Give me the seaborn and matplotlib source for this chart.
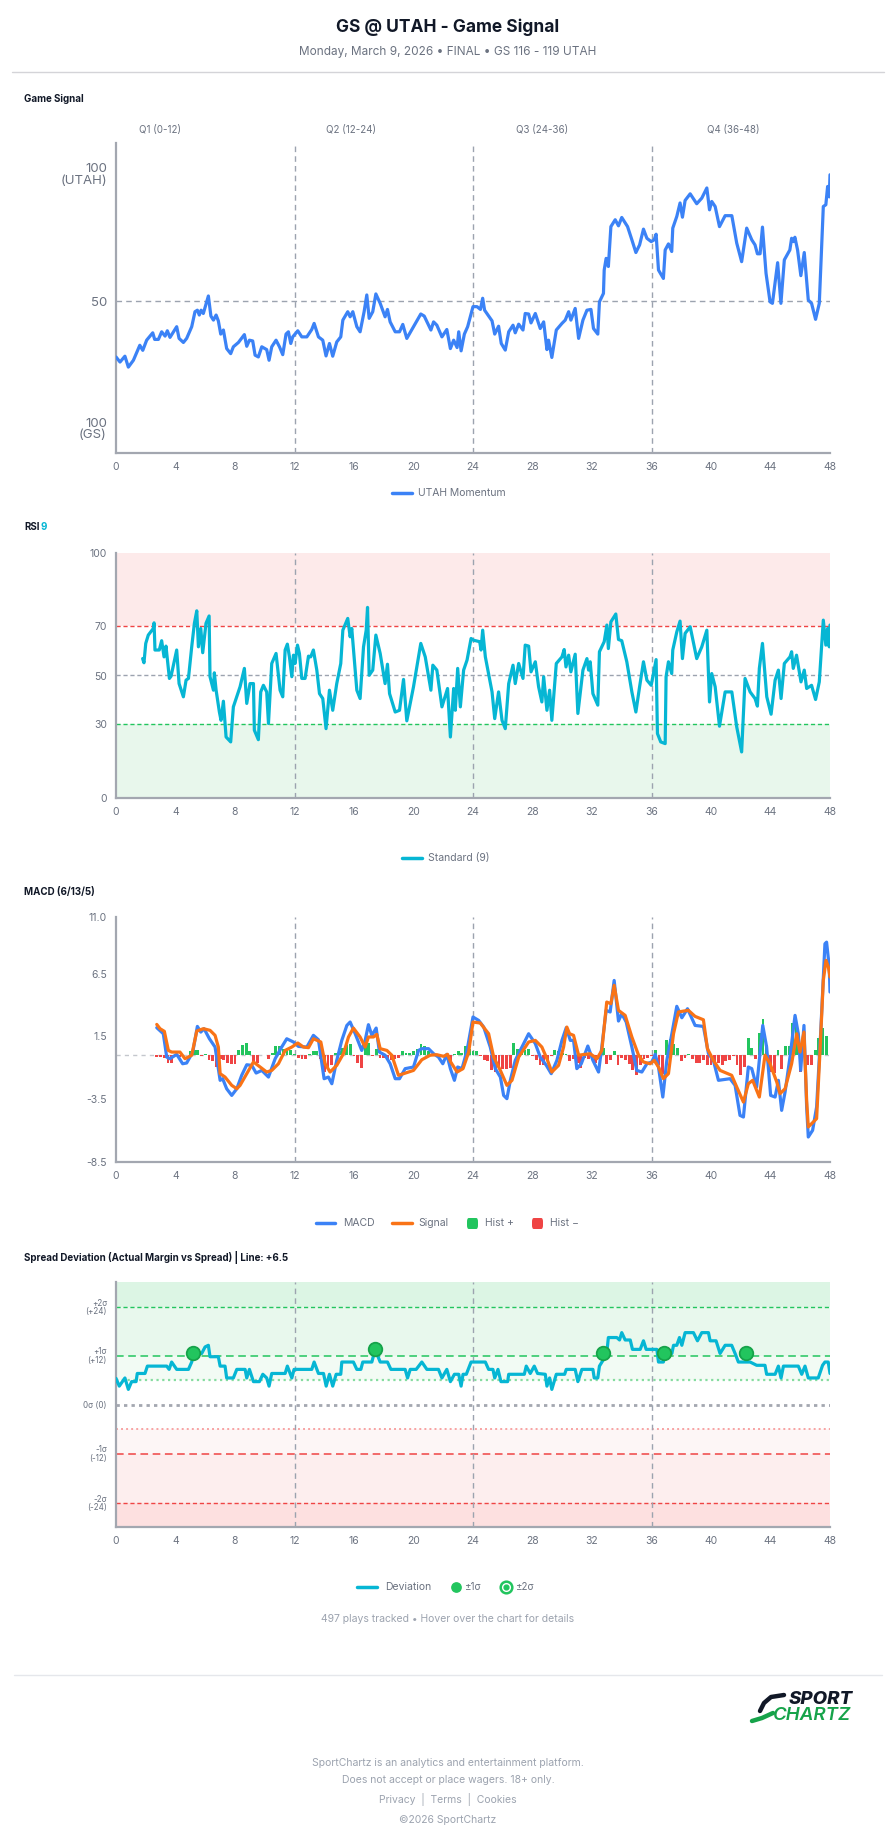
import matplotlib
matplotlib.use('Agg')
import matplotlib.pyplot as plt
from matplotlib.lines import Line2D
from matplotlib.patches import FancyBboxPatch
import numpy as np
import seaborn as sns

W, H = 896, 1845

# ---- Game Signal (UTAH momentum, 0 = GS 100, 100 = UTAH 100)
mom_t = [0, 0.27, 0.6, 0.83, 1.17, 1.6, 1.8, 2.06, 2.47, 2.6,
         2.85, 3.07, 3.3, 3.45, 3.63, 4.08, 4.24, 4.53, 4.75, 5.09,
         5.31, 5.47, 5.6, 5.72, 5.87, 6.21, 6.38, 6.55, 6.73, 6.88,
         7.04, 7.22, 7.44, 7.71, 7.89, 8.23, 8.63, 8.79, 8.97, 9.19,
         9.35, 9.57, 9.8, 10.13, 10.29, 10.47, 10.76, 10.99, 11.21, 11.43,
         11.59, 11.75, 11.88, 12.22, 12.49, 12.83, 13.16, 13.32, 13.61, 13.9,
         14.12, 14.35, 14.57, 14.84, 15.11, 15.25, 15.58, 15.74, 15.92, 16.19,
         16.41, 16.68, 16.86, 17.02, 17.26, 17.47, 17.76, 18.09, 18.25, 18.43,
         18.77, 19.06, 19.28, 19.55, 20.0, 20.49, 20.72, 21.17, 21.35, 21.57,
         21.91, 22.24, 22.48, 22.7, 22.93, 23.04, 23.2, 23.42, 23.64, 24.0,
         24.27, 24.5, 24.65, 24.78, 25.28, 25.46, 25.72, 25.9, 26.17, 26.4,
         26.69, 26.84, 27.07, 27.36, 27.51, 27.74, 27.9, 28.19, 28.52, 28.75,
         28.97, 29.08, 29.3, 29.6, 29.98, 30.2, 30.43, 30.58, 30.87, 31.1,
         31.39, 31.66, 31.93, 32.1, 32.39, 32.5, 32.77, 32.82, 32.95, 33.1,
         33.27, 33.56, 33.78, 34.0, 34.39, 34.68, 34.95, 35.2, 35.46, 35.69,
         35.98, 36.18, 36.31, 36.47, 36.8, 36.92, 37.14, 37.36, 37.43, 37.7,
         37.92, 38.08, 38.26, 38.6, 39.04, 39.38, 39.72, 39.9, 40.05, 40.28,
         40.57, 40.95, 41.4, 41.73, 42.06, 42.4, 42.74, 42.96, 43.12, 43.3,
         43.46, 43.7, 43.97, 44.13, 44.48, 44.7, 44.93, 45.3, 45.42, 45.53,
         45.64, 45.82, 46.04, 46.27, 46.54, 46.76, 47.03, 47.28, 47.55, 47.72,
         47.84, 47.95, 48.0]
mom_v = [28, 26, 28.3, 24, 26.7, 32.6, 30.6, 34.6, 37.5, 34.9,
         34.9, 37.9, 36.2, 38.3, 35.7, 39.9, 35.3, 33.7, 35.3, 39.9,
         45.8, 46.4, 44.5, 46.4, 45.1, 52, 44.1, 42.5, 44.5, 42.2,
         37, 38.6, 31.3, 29.3, 32, 33.7, 36.8, 32.2, 34.6, 34.3,
         28.7, 28, 32, 30.9, 26.7, 32, 34.6, 32, 28.9, 37,
         37.9, 33.3, 35.9, 38.3, 35.9, 35.9, 38.8, 41.2, 35.9, 34.6,
         28.4, 33.3, 28.3, 33.9, 35.9, 42.5, 45.8, 43.8, 45.8, 39.9,
         37.9, 45.8, 52.4, 43.2, 45.8, 52.8, 49.1, 43.8, 46.7, 41.8,
         37.9, 37.9, 40.8, 35.3, 39.9, 44.9, 44.1, 38.6, 41.8, 40.5,
         35.9, 38.8, 31.3, 34.6, 31.7, 37.9, 30.4, 37, 39.9, 47.8,
         47.8, 46.7, 51.1, 46.4, 42.2, 37, 40.1, 33.3, 30.7, 37.9,
         40.5, 37.5, 40.9, 38.6, 45.1, 44.9, 41.4, 45.1, 39.2, 41.8,
         30.9, 34.6, 27.8, 38.6, 41.2, 42.5, 45.8, 42.5, 47.1, 35.3,
         42.5, 46.4, 46.7, 39.2, 37, 49.7, 53, 62.2, 66.8, 63.6,
         79.3, 82, 79.6, 82.9, 79.3, 74.1, 69.1, 72.1, 78.3, 74.7,
         73.4, 74.1, 76.3, 62.2, 58.9, 70.1, 72.5, 69.5, 78.7, 83.3,
         88.6, 83, 89.6, 92.2, 88.3, 90.5, 94.5, 85.9, 89.2, 87.2,
         79.3, 83.6, 83.6, 72.8, 65.5, 78.7, 74.1, 72.1, 68.6, 68.6,
         79.1, 60.9, 49.7, 49.1, 65.1, 49.1, 66.2, 70.1, 74.7, 73.4,
         75.1, 70.1, 60, 69.1, 50.4, 49.1, 42.8, 49.1, 87.2, 87.9,
         95.1, 91, 99.7]

# ---- RSI 9
rsi_t = [1.79, 1.88, 2.0, 2.17, 2.51, 2.56, 2.62, 2.91, 3.07, 3.23,
         3.36, 3.59, 3.7, 3.86, 4.08, 4.24, 4.53, 4.71, 4.87, 5.09,
         5.27, 5.43, 5.54, 5.7, 5.83, 6.05, 6.26, 6.32, 6.55, 6.61,
         6.73, 6.95, 7.06, 7.22, 7.4, 7.71, 7.89, 8.34, 8.63, 8.79,
         9.01, 9.24, 9.3, 9.57, 9.73, 9.91, 10.13, 10.25, 10.47, 10.76,
         11.03, 11.21, 11.37, 11.52, 11.66, 11.82, 11.93, 12.04, 12.2, 12.33,
         12.49, 12.71, 12.94, 13.09, 13.27, 13.5, 13.68, 13.9, 14.12, 14.35,
         14.57, 14.84, 15.11, 15.25, 15.58, 15.74, 15.85, 16.19, 16.41, 16.64,
         16.82, 16.91, 17.02, 17.26, 17.47, 17.76, 18.09, 18.25, 18.39, 18.77,
         19.06, 19.33, 19.55, 20.0, 20.49, 20.79, 21.17, 21.3, 21.57, 21.91,
         22.29, 22.48, 22.7, 22.81, 22.97, 23.15, 23.37, 23.6, 23.87, 24.04,
         24.45, 24.54, 24.65, 24.83, 25.28, 25.46, 25.72, 25.95, 26.17, 26.4,
         26.69, 26.84, 27.07, 27.36, 27.51, 27.74, 27.9, 28.19, 28.41, 28.63,
         28.75, 28.97, 29.15, 29.3, 29.6, 29.98, 30.13, 30.25, 30.43, 30.58,
         30.87, 31.05, 31.39, 31.66, 31.77, 31.88, 32.06, 32.39, 32.5, 32.82,
         33.0, 33.1, 33.27, 33.6, 33.78, 34.0, 34.34, 34.68, 34.95, 35.2,
         35.46, 35.69, 35.98, 36.13, 36.31, 36.4, 36.62, 36.92, 36.98, 37.14,
         37.36, 37.43, 37.7, 37.92, 38.08, 38.26, 38.6, 39.04, 39.38, 39.72,
         39.9, 40.05, 40.28, 40.57, 40.95, 41.4, 41.73, 42.06, 42.29, 42.63,
         42.96, 43.12, 43.25, 43.46, 43.75, 44.04, 44.31, 44.53, 44.71, 44.93,
         45.31, 45.42, 45.53, 45.75, 46.05, 46.27, 46.43, 46.76, 47.03, 47.28,
         47.55, 47.72, 47.84, 47.95, 48.0]
rsi_v = [56.9, 55.2, 63.1, 66.5, 69.2, 71.5, 60.4, 60.4, 64.2, 57.6,
         62, 48.8, 49.7, 54.2, 60.4, 46.7, 41.3, 48.1, 48.8, 61.7,
         71.3, 76.4, 61.7, 69.2, 59.3, 71.3, 74.3, 49.5, 44, 51.1,
         44, 35.1, 31.7, 39.5, 24.9, 22.9, 37.2, 45.4, 52.9, 38.6,
         46.7, 46.7, 27.7, 23.8, 43.3, 46, 43.3, 30.4, 54.9, 59,
         44, 41.3, 60.4, 62.8, 57.6, 49.5, 58.3, 54.9, 62.4, 59,
         48.8, 48.8, 57.9, 57.6, 60.4, 52.2, 42.6, 40.6, 28.3, 44,
         35.8, 46.7, 54.9, 68.5, 73.3, 65.8, 69.2, 44, 40.6, 61.7,
         68.5, 77.8, 50.1, 52.2, 66.5, 59, 46.7, 54.6, 42.6, 35.1,
         35.8, 48.4, 31.5, 45.4, 63.1, 57.6, 44, 54.2, 52.2, 37.2,
         44.7, 24.9, 44.7, 35.8, 52.9, 37.2, 52.2, 56.3, 65.1, 64.4,
         63.8, 60.4, 68.5, 57.6, 43.3, 32.4, 43.3, 31.7, 28.3, 46.7,
         54.2, 46.7, 54.9, 48.8, 62.4, 62, 51.5, 55.6, 45.4, 39.2,
         49.5, 35.8, 44, 31.7, 54.9, 57.6, 60.6, 53.5, 58.3, 51.5,
         58.7, 34.5, 52.2, 56.9, 52.2, 55.6, 42.6, 37.9, 59.7, 63.8,
         70.6, 61, 71.9, 75.1, 64.7, 64.2, 55.6, 43.3, 35.1, 45.4,
         55.6, 48.1, 46, 50.8, 56.5, 26.3, 22.9, 22.2, 49.5, 55.6,
         50.8, 60.4, 67.8, 72.2, 56.9, 67.2, 69.9, 56.9, 61.7, 68.5,
         39.2, 50.8, 45.4, 29.3, 43.3, 43.3, 29, 18.8, 48.8, 43.3,
         40.6, 37.5, 52.9, 63.1, 41.3, 34.2, 48.1, 52.2, 40.6, 54.9,
         57.6, 59.7, 52.9, 58.3, 47.4, 52.2, 44.7, 46, 40.2, 47.4,
         72.6, 62.4, 69.2, 61.7, 70.6]

# ---- MACD (6/13/5)
macd_t = [2.74, 3.18, 3.41, 3.63, 4.08, 4.48, 4.75, 5.16, 5.47, 5.7,
          5.92, 6.28, 6.66, 7.0, 7.17, 7.44, 7.78, 8.12, 8.45, 8.79,
          9.13, 9.42, 9.8, 10.25, 10.7, 11.14, 11.48, 11.93, 12.26, 12.83,
          13.27, 13.61, 13.99, 14.28, 14.51, 14.84, 15.18, 15.52, 15.74, 16.08,
          16.52, 16.75, 16.97, 17.2, 17.49, 17.71, 18.09, 18.43, 18.77, 19.06,
          19.44, 20.0, 20.34, 20.56, 21.01, 21.35, 21.68, 21.97, 22.24, 22.48,
          22.75, 22.97, 23.26, 23.6, 24.0, 24.38, 24.72, 25.16, 25.5, 25.84,
          26.06, 26.28, 26.51, 26.84, 27.29, 27.74, 28.19, 28.52, 28.93, 29.26,
          29.64, 29.98, 30.27, 30.54, 30.76, 30.98, 31.28, 31.72, 32.06, 32.44,
          32.66, 32.95, 33.22, 33.49, 33.78, 34.0, 34.3, 34.68, 35.01, 35.35,
          35.69, 36.02, 36.25, 36.47, 36.76, 37.03, 37.37, 37.7, 38.04, 38.42,
          38.93, 39.49, 39.83, 40.16, 40.5, 41.28, 41.62, 41.95, 42.18, 42.51,
          42.74, 43.07, 43.48, 43.74, 44.01, 44.31, 44.53, 44.75, 44.98, 45.31,
          45.65, 45.87, 46.03, 46.25, 46.43, 46.54, 46.83, 47.1, 47.37, 47.66,
          47.77, 47.95, 48.0]
macd_v = [2.19, 1.71, -0.15, -0.28, 0.07, -0.68, -0.62, 0.25, 2.29, 1.84,
          2.11, 1.31, 0.65, -2.0, -1.87, -2.67, -3.2, -2.67, -1.6, -0.76,
          -0.81, -1.42, -1.21, -1.74, -0.28, 0.65, 1.31, 1.05, 0.7, 0.65,
          1.58, 1.23, -1.87, -1.74, -2.27, -0.41, 1.18, 2.37, 2.64, 1.71,
          0.38, 1.18, 2.43, 1.58, 2.16, 0.25, 0.0, -0.68, -1.87, -1.87,
          -1.07, -0.94, 0.38, 0.52, 0.52, 0.12, -0.15, -0.68, 0.07, -1.07,
          -2.0, -0.94, -1.07, 0.38, 3.04, 2.77, 2.24, 0.65, -1.07, -1.74,
          -3.2, -3.46, -2.0, -0.41, 0.65, 1.71, 0.92, -0.15, -0.81, -1.47,
          -0.41, 1.18, 2.19, 1.18, 1.18, -1.07, -0.68, 0.73, -0.41, -1.34,
          0.65, 3.57, 3.44, 5.95, 2.72, 3.3, 2.64, 0.65, -1.21, -1.34,
          -0.68, -0.54, 0.07, -0.94, -3.33, -0.41, 1.71, 3.89, 2.98, 3.7,
          2.37, 2.29, 0.12, -0.41, -2.0, -1.87, -2.4, -4.79, -4.92, -0.94,
          -1.07, -2.53, 2.37, 0.65, -3.2, -3.33, -2.0, -4.39, -2.93, -0.15,
          3.17, 1.71, -1.21, 2.37, -4.12, -6.51, -5.98, -4.12, 1.71, 8.87,
          9.0, 7.02, 5.03]

sig_t = [2.74, 2.96, 3.25, 3.52, 3.74, 4.3, 4.64, 5.09, 5.43, 5.87,
         6.32, 6.66, 6.88, 7.0, 7.33, 7.78, 8.12, 8.34, 8.79, 9.24,
         9.69, 10.13, 10.47, 10.92, 11.37, 11.82, 12.22, 12.6, 12.94, 13.27,
         13.77, 14.06, 14.39, 14.84, 15.29, 15.63, 15.96, 16.41, 16.75, 16.97,
         17.31, 17.53, 17.76, 18.21, 18.54, 18.99, 19.33, 20.0, 20.56, 21.12,
         21.57, 22.02, 22.29, 22.48, 22.93, 23.33, 23.71, 24.0, 24.49, 25.05,
         25.39, 25.84, 26.28, 26.62, 27.07, 27.74, 28.19, 28.63, 28.97, 29.3,
         29.75, 30.09, 30.31, 30.49, 30.76, 31.1, 31.54, 31.88, 32.33, 32.66,
         32.99, 33.27, 33.49, 33.78, 34.23, 34.68, 35.13, 35.46, 35.91, 36.18,
         36.47, 36.8, 37.14, 37.48, 37.81, 38.15, 38.48, 38.93, 39.49, 39.76,
         40.16, 40.61, 41.39, 41.73, 42.18, 42.51, 42.8, 43.25, 43.63, 43.97,
         44.42, 44.64, 44.98, 45.42, 45.76, 45.98, 46.25, 46.43, 46.54, 47.1,
         47.33, 47.55, 47.73, 47.89, 48.0]
sig_v = [2.45, 2.11, 1.9, 0.38, 0.25, 0.25, -0.28, 0.0, 1.92, 2.11,
         1.98, 1.58, 0.65, -1.47, -1.74, -2.4, -2.67, -2.4, -1.47, -0.54,
         -0.94, -1.34, -1.21, -0.68, 0.38, 0.65, 0.97, 0.65, 0.6, 1.31,
         1.05, -0.68, -1.34, -0.81, 0.12, 1.45, 2.16, 1.45, 0.65, 1.45,
         1.45, 1.66, 0.52, 0.38, 0.0, -1.6, -1.47, -1.21, -0.36, 0.0,
         0.04, -0.09, 0.07, -0.5, -1.34, -1.07, 0.25, 2.64, 2.56, 1.71,
         -0.15, -1.21, -2.4, -2.0, -0.15, 1.05, 1.18, 0.65, -0.28, -1.34,
         -0.81, 0.65, 2.24, 1.71, 1.58, 0.0, 0.07, 0.12, -0.28, 0.38,
         4.23, 4.1, 5.56, 3.57, 3.17, 1.45, 0.0, -0.54, -0.68, -0.41,
         -0.94, -1.87, -1.47, 1.71, 3.44, 3.51, 3.57, 3.09, 2.82, 0.52,
         -0.41, -1.21, -1.6, -2.53, -3.73, -2.27, -2.0, -3.33, 0.0, -0.68,
         -2.13, -3.06, -2.67, -0.68, 1.71, 0.25, 1.84, -3.59, -5.71, -5.05,
         0.38, 5.95, 7.55, 7.02, 6.22]

# histogram, one bar every quarter minute from 2.75 to 47.75
hist_start, hist_step = 2.75, 0.25
hist_v = [-0.15, -0.15, -0.2, -0.6, -0.6, -0.1, -0.15, -0.1, 0.05, 0.3,
          0.4, 0.45, -0.1, 0.1, -0.4, -0.5, -0.9, -0.3, -0.4, -0.6,
          -0.7, -0.7, 0.4, 0.8, 1.0, 0.3, -0.5, -0.6, 0.0, 0.0,
          -0.3, 0.2, 0.7, 0.7, 0.5, 0.6, 0.4, 0.1, -0.2, -0.3,
          -0.3, 0.1, 0.3, 0.3, -0.3, -1.3, -0.9, -0.8, 0.2, 0.3,
          0.6, 0.8, 0.9, -0.1, -0.6, -1.0, 0.9, 1.0, -0.1, 0.5,
          -0.2, -0.2, -0.3, -0.4, -0.3, -0.2, 0.3, 0.2, 0.2, 0.3,
          0.5, 0.9, 0.7, 0.3, 0.1, -0.1, 0.1, 0.0, -0.1,
          -0.8, 0.1, 0.3, 0.2, 0.7, 0.5, 0.3, 0.3, -0.1, -0.4,
          -0.5, -1.2, -1.3, -1.0, -1.1, -1.1, -1.0, 1.0, 0.5, 0.3,
          0.4, 0.5, -0.1, -0.4, -0.8, -0.8, -0.4, -0.1, 0.4, 0.3,
          0.2, 0.1, -0.5, -0.3, -0.6, -1.0, -0.2, -0.3, -0.4, -0.6,
          -0.3, 0.6, -0.7, -0.4, 0.3, -0.8, -0.2, -0.4, -0.7, -1.2,
          -1.6, -0.8, -0.3, -0.2, -0.1, 0.4, -0.8, -1.5, 1.2, 1.3,
          0.9, 0.6, -0.5, -0.2, 0.1, -0.3, -0.6, -0.6, -0.4, -0.8,
          -0.8, -0.6, -0.6, -0.8, -0.5, -0.4, -0.1, -0.8, -1.6, -0.9,
          1.4, 0.6, -0.3, 1.8, 2.9, 0.8, -1.3, -1.4, 0.4, -1.1,
          0.7, 0.7, 2.6, 2.5, -1.3, 1.2, -0.8, -0.8, 0.4, 1.4,
          2.2, 1.5]

# ---- Spread deviation (points vs +6.5 line)
dev_t = [0, 0.22, 0.6, 0.83, 1.05, 1.35, 1.43, 1.95, 2.11, 3.41,
         3.57, 3.74, 4.08, 4.87, 5.09, 5.2, 5.76, 5.99, 6.21, 6.32,
         6.88, 7.0, 7.33, 7.44, 7.89, 8.12, 8.68, 8.79, 8.97, 9.24,
         9.64, 9.87, 10.13, 10.29, 10.47, 11.37, 11.52, 11.82, 11.97, 13.16,
         13.32, 13.61, 13.95, 14.13, 14.35, 14.57, 14.8, 15.11, 15.18, 15.96,
         16.19, 16.46, 16.59, 17.2, 17.42, 17.76, 18.25, 18.48, 19.44, 19.6,
         19.78, 20.18, 20.56, 20.9, 21.68, 21.91, 22.24, 22.48, 22.75, 23.04,
         23.2, 23.33, 23.55, 23.87, 24.83, 25.05, 25.34, 25.46, 25.68, 25.88,
         26.33, 26.4, 27.45, 27.58, 27.85, 28.12, 28.34, 28.86, 28.97, 29.15,
         29.3, 29.6, 30.16, 30.27, 30.87, 31.05, 31.32, 32.06, 32.15, 32.39,
         32.5, 32.77, 33.0, 33.1, 33.67, 33.85, 34.0, 34.23, 34.57, 34.72,
         35.24, 35.46, 35.64, 36.36, 36.47, 36.8, 36.87, 37.37, 37.48, 37.7,
         37.88, 38.04, 38.26, 38.82, 39.09, 39.38, 39.83, 39.94, 40.34, 40.61,
         40.95, 41.39, 41.62, 41.84, 42.63, 43.07, 43.63, 43.74, 44.31, 44.53,
         44.71, 44.87, 45.87, 46.1, 46.32, 46.54, 47.21, 47.5, 47.66, 47.88,
         48.0]
dev_v = [6.4, 4.5, 6.5, 3.7, 5.6, 5.6, 7.6, 7.6, 9.4, 9.4,
         8.6, 10.4, 8.6, 8.6, 10.4, 12.5, 12.5, 14.1, 14.5, 11.7,
         11.7, 9.4, 9.4, 6.5, 6.5, 8.6, 8.6, 6.5, 8.6, 5.6,
         5.6, 7.4, 6.5, 4.5, 7.6, 7.6, 9.4, 6.5, 8.6, 8.6,
         10.4, 7.6, 7.6, 4.5, 7.4, 4.5, 7.4, 7.4, 10.4, 10.4,
         8.6, 8.6, 10.4, 10.4, 13.5, 10.4, 10.4, 8.6, 8.6, 6.5,
         8.6, 8.6, 10.4, 8.6, 8.6, 6.5, 8.6, 5.6, 7.4, 7.4,
         4.5, 7.4, 7.4, 10.4, 10.4, 8.6, 8.6, 6.5, 8.6, 5.6,
         5.6, 7.4, 7.4, 9.4, 7.6, 9.4, 7.6, 7.4, 4.5, 6.5,
         3.7, 7.4, 7.4, 8.6, 8.6, 5.6, 8.6, 8.6, 6.5, 6.5,
         9.4, 11.0, 12.8, 16.4, 16.4, 15.8, 17.6, 15.8, 15.8, 13.5,
         13.5, 15.6, 13.5, 13.5, 10.4, 10.4, 12.5, 12.5, 14.5, 14.5,
         16.4, 14.5, 17.6, 17.6, 15.6, 17.6, 17.6, 15.6, 15.6, 12.5,
         14.5, 14.5, 12.5, 10.4, 10.4, 9.6, 9.6, 7.4, 7.4, 9.4,
         6.5, 9.4, 9.4, 7.4, 9.4, 6.5, 6.5, 9.6, 10.4, 10.4,
         7.6]

flag_t = [5.2, 17.42, 32.77, 36.87, 42.36]
flag_v = [12.5, 13.5, 12.5, 12.5, 12.5]

quarter_labels = ['Q1 (0-12)', 'Q2 (12-24)', 'Q3 (24-36)', 'Q4 (36-48)']
x_ticks = list(range(0, 49, 4))

# ---- style
sns.set_style('white')
plt.rcParams['font.family'] = ['Inter', 'DejaVu Sans']

DARK = '#111827'
GRAY = '#6b7280'
LIGHT = '#9ca3af'
AXIS = '#a3a7b0'
BLUE = '#3b82f6'
CYAN = '#06b6d4'
ORANGE = '#f97316'
GREEN = '#22c55e'
RED = '#ef4444'

fig = plt.figure(figsize=(W / 100, H / 100), dpi=100)
fig.patch.set_facecolor('white')


def box(top, bottom, left=116, right=830):
    return [left / W, 1 - bottom / H, (right - left) / W, (bottom - top) / H]


def ftext(x, y, s, **kw):
    kw.setdefault('va', 'center')
    return fig.text(x / W, 1 - y / H, s, **kw)


def fline(x0, x1, y, **kw):
    fig.add_artist(Line2D([x0 / W, x1 / W], [1 - y / H, 1 - y / H],
                          transform=fig.transFigure, **kw))


def style(ax, ylim, yticks, ylabels, ysize):
    ax.set_xlim(0, 48)
    ax.set_ylim(*ylim)
    ax.set_xticks(x_ticks)
    ax.set_yticks(yticks)
    ax.set_yticklabels(ylabels, linespacing=0.95)
    for lab in ax.get_yticklabels():
        lab.set_multialignment('right')
    for s in ['top', 'right']:
        ax.spines[s].set_visible(False)
    for s in ['left', 'bottom']:
        ax.spines[s].set_color(AXIS)
        ax.spines[s].set_linewidth(1.6)
    ax.tick_params(axis='both', colors=AXIS, length=3.5, width=1,
                   labelcolor=GRAY, direction='out')
    ax.tick_params(axis='x', labelsize=7.5, pad=3)
    ax.tick_params(axis='y', labelsize=ysize, pad=3)
    for q in (12, 24, 36):
        ax.axvline(q, color=LIGHT, lw=1, ls=(0, (4, 3)), zorder=1)
    ax.set_xlabel('')
    ax.set_ylabel('')
    ax.grid(False)
    ax.set_facecolor('white')


# ---- header
ftext(448, 27, 'GS @ UTAH - Game Signal', ha='center', fontsize=12.5,
      fontweight='bold', color=DARK)
ftext(448, 52, 'Monday, March 9, 2026 • FINAL • GS 116 - 119 UTAH',
      ha='center', fontsize=8.5, color=GRAY)
fline(12, 884, 72, color='#d4d4d8', lw=1)

# ---- panel 1: Game Signal
ftext(24, 99, 'Game Signal', fontsize=7, fontweight='bold', color=DARK)
for lab, xc in zip(quarter_labels, [160, 351, 542, 733]):
    ftext(xc, 130, lab, ha='center', fontsize=7, color=GRAY)

ax1 = fig.add_axes(box(143, 453))
ax1.axhline(50, color=LIGHT, lw=1, ls=(0, (4, 3)), zorder=1)
sns.lineplot(x=mom_t, y=mom_v, ax=ax1, color=BLUE, linewidth=2.3,
             estimator=None, sort=False, solid_joinstyle='round', zorder=3)
style(ax1, (-9.8, 112.2), [0, 50, 100], ['100\n(GS)', '50', '100\n(UTAH)'], 9.5)

fline(392, 412, 493, color=BLUE, lw=2.5)
ftext(418, 493, 'UTAH Momentum', fontsize=7.5, color=GRAY)

# ---- panel 2: RSI
ftext(24, 527, 'RSI', fontsize=7, fontweight='bold', color=DARK)
ftext(40, 527, '9', fontsize=7, fontweight='bold', color=CYAN)

ax2 = fig.add_axes(box(553, 798))
ax2.axhspan(70, 100, color='#fdeaea', zorder=0, lw=0)
ax2.axhspan(0, 30, color='#e8f7ec', zorder=0, lw=0)
ax2.axhline(70, color=RED, lw=1, ls=(0, (3, 2)), zorder=1)
ax2.axhline(50, color=LIGHT, lw=1, ls=(0, (3, 2)), zorder=1)
ax2.axhline(30, color=GREEN, lw=1, ls=(0, (3, 2)), zorder=1)
sns.lineplot(x=rsi_t, y=rsi_v, ax=ax2, color=CYAN, linewidth=2.3,
             estimator=None, sort=False, solid_joinstyle='round', zorder=3)
style(ax2, (0, 100), [0, 30, 50, 70, 100], ['0', '30', '50', '70', '100'], 7.5)

fline(402, 422, 858, color=CYAN, lw=2.5)
ftext(428, 858, 'Standard (9)', fontsize=7.5, color=GRAY)

# ---- panel 3: MACD
ftext(24, 892, 'MACD (6/13/5)', fontsize=7, fontweight='bold', color=DARK)

ax3 = fig.add_axes(box(917, 1162))
ax3.axhline(0, color='#c4c7cd', lw=1, ls=(0, (3, 3)), zorder=1)
hist_t = hist_start + hist_step * np.arange(len(hist_v))
hist_arr = np.array(hist_v)
ax3.bar(hist_t, hist_arr, width=0.19,
        color=[GREEN if h >= 0 else RED for h in hist_arr], zorder=2, lw=0)
sns.lineplot(x=macd_t, y=macd_v, ax=ax3, color=BLUE, linewidth=2.3,
             estimator=None, sort=False, solid_joinstyle='round', zorder=3)
sns.lineplot(x=sig_t, y=sig_v, ax=ax3, color=ORANGE, linewidth=2.3,
             estimator=None, sort=False, solid_joinstyle='round', zorder=4)
style(ax3, (-8.5, 11.0), [-8.5, -3.5, 1.5, 6.5, 11.0],
      ['-8.5', '-3.5', '1.5', '6.5', '11.0'], 7.5)

fline(316, 335, 1223, color=BLUE, lw=2.5)
ftext(343, 1223, 'MACD', fontsize=7.5, color=GRAY)
fline(392, 412, 1223, color=ORANGE, lw=2.5)
ftext(418, 1223, 'Signal', fontsize=7.5, color=GRAY)
for x0, col, lab in [(467, GREEN, 'Hist +'), (532, RED, 'Hist −')]:
    fig.add_artist(FancyBboxPatch((x0 / W, 1 - 1229 / H), 11 / W, 11 / H,
                                  boxstyle='round,pad=0,rounding_size=0.002',
                                  transform=fig.transFigure, color=col, lw=0))
    ftext(x0 + 18, 1223, lab, fontsize=7.5, color=GRAY)

# ---- panel 4: spread deviation
ftext(24, 1257, 'Spread Deviation (Actual Margin vs Spread) | Line: +6.5',
      fontsize=7, fontweight='bold', color=DARK)

ax4 = fig.add_axes(box(1282, 1527))
ax4.axhspan(24, 30, color='#dcf5e4', zorder=0, lw=0)
ax4.axhspan(12, 24, color='#e8f8ed', zorder=0, lw=0)
ax4.axhspan(6, 12, color='#f2fbf4', zorder=0, lw=0)
ax4.axhspan(-12, -6, color='#fdf6f6', zorder=0, lw=0)
ax4.axhspan(-24, -12, color='#fdeeee', zorder=0, lw=0)
ax4.axhspan(-30, -24, color='#fde0e0', zorder=0, lw=0)
ax4.axhline(24, color=GREEN, lw=1, ls=(0, (3, 2)), zorder=1)
ax4.axhline(12, color=GREEN, lw=1.1, ls=(0, (5, 3)), zorder=1)
ax4.axhline(6, color='#86dca0', lw=1.6, ls=(0, (1, 1.6)), zorder=1)
ax4.axhline(0, color=AXIS, lw=2, ls=(0, (1.2, 1.5)), zorder=1)
ax4.axhline(-6, color='#f7a3a3', lw=1.4, ls=(0, (1, 1.6)), zorder=1)
ax4.axhline(-12, color=RED, lw=1.1, ls=(0, (5, 3)), zorder=1)
ax4.axhline(-24, color=RED, lw=1, ls=(0, (3, 2)), zorder=1)
sns.lineplot(x=dev_t, y=dev_v, ax=ax4, color=CYAN, linewidth=2.3,
             estimator=None, sort=False, solid_joinstyle='round', zorder=3)
sns.scatterplot(x=flag_t, y=flag_v, ax=ax4, s=95, color=GREEN,
                edgecolor='#16a34a', linewidth=1.3, zorder=5)
style(ax4, (-30, 30), [-24, -12, 0, 12, 24],
      ['-2σ\n(-24)', '-1σ\n(-12)', '0σ (0)', '+1σ\n(+12)', '+2σ\n(+24)'], 5.8)

fline(357, 377, 1587, color=CYAN, lw=2.5)
ftext(385, 1587, 'Deviation', fontsize=7.5, color=GRAY)
leg_ax = fig.add_axes([0, 0, 1, 1], facecolor='none')
leg_ax.set_xlim(0, W)
leg_ax.set_ylim(H, 0)
leg_ax.axis('off')
leg_ax.scatter([456], [1587], s=45, color=GREEN, zorder=5)
ftext(465, 1587, '±1σ', fontsize=7, color=GRAY)
leg_ax.scatter([506], [1587], s=70, facecolor='white', edgecolor=GREEN,
               linewidth=1.8, zorder=5)
leg_ax.scatter([506], [1587], s=12, color=GREEN, zorder=6)
ftext(516, 1587, '±2σ', fontsize=7, color=GRAY)

ftext(448, 1619, '497 plays tracked • Hover over the chart for details',
      ha='center', fontsize=7.5, color=LIGHT)

# ---- footer
fline(14, 882, 1675, color='#e5e7eb', lw=1)
leg_ax.plot([784, 771, 764, 760], [1695, 1697, 1703, 1711], color=DARK,
            lw=3.2, solid_capstyle='round')
leg_ax.plot([752, 762, 773], [1721, 1718, 1713], color='#16a34a',
            lw=3.2, solid_capstyle='round')
ftext(789, 1699, 'SPORT', fontsize=13.5, fontweight='heavy', fontstyle='italic',
      color=DARK)
ftext(773, 1715, 'CHARTZ', fontsize=13.5, fontweight='semibold',
      fontstyle='italic', color='#16a34a')

for yy, line in [(1763, 'SportChartz is an analytics and entertainment platform.'),
                 (1780, 'Does not accept or place wagers. 18+ only.'),
                 (1800, 'Privacy  |  Terms  |  Cookies'),
                 (1820, '©2026 SportChartz')]:
    ftext(448, yy, line, ha='center', fontsize=7.5, color=LIGHT)

fig.savefig('out.png', dpi=100, facecolor='white')
